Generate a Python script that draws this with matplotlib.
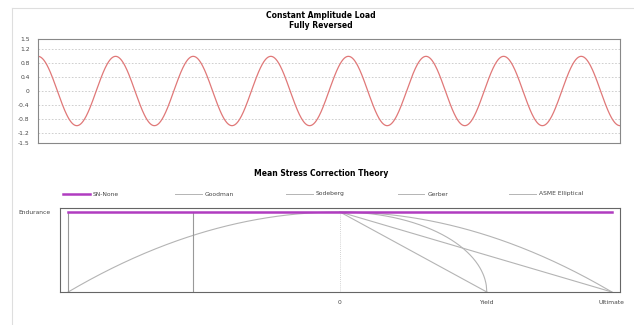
import numpy as np
import matplotlib
matplotlib.use('Agg')
import matplotlib.pyplot as plt
from matplotlib.lines import Line2D

# --- data ---
load_amplitude = 1.0          # fully reversed, +/-1
load_cycles = 7.5             # number of cycles shown
load_yticks = [1.5, 1.2, 0.8, 0.4, 0.0, -0.4, -0.8, -1.2, -1.5]
load_ylabels = ['1.5', '1.2', '0.8', '0.4', '0', '-0.4', '-0.8', '-1.2', '-1.5']
load_grid = [1.2, 0.8, 0.4, 0.0, -0.4, -0.8, -1.2]

theory_names = ['SN-None', 'Goodman', 'Sodeberg', 'Gerber', 'ASME Elliptical']
endurance = 1.0
yield_strength = 0.54
ultimate = 1.0
mean_ticks = [0.0, yield_strength, ultimate]
mean_labels = ['0', 'Yield', 'Ultimate']

plt.rcParams['font.family'] = ['DejaVu Sans']

fig = plt.figure(figsize=(6.34, 3.25), dpi=100)
W, H = 634.0, 325.0

def axes_px(x0, y0, x1, y1):
  return fig.add_axes([x0 / W, 1 - y1 / H, (x1 - x0) / W, (y1 - y0) / H])

# outer panel frame
fig.add_artist(Line2D([12 / W, 12 / W], [0, 1 - 8 / H], color='#dedede', lw=0.8))
fig.add_artist(Line2D([12 / W, 1], [1 - 8 / H, 1 - 8 / H], color='#dedede', lw=0.8))

# ---------- top: load history ----------
ax1 = axes_px(38, 39, 620, 143)
t = np.linspace(0, load_cycles, 1500)
ax1.plot(t, load_amplitude * np.cos(2 * np.pi * t), color='#e07878', lw=0.9)
for g in load_grid:
  ax1.axhline(g, color='#c8c8c8', lw=0.6, ls=(0, (2, 2)), zorder=0)
ax1.set_xlim(0, load_cycles)
ax1.set_ylim(-1.5, 1.5)
ax1.set_yticks(load_yticks)
ax1.set_yticklabels(load_ylabels, fontsize=4.3, color='#444444')
ax1.set_xticks([])
ax1.tick_params(axis='y', length=0, pad=6)
for s in ax1.spines.values():
  s.set_color('#888888')
  s.set_linewidth(0.8)
fig.text(321 / W, 1 - 16 / H, 'Constant Amplitude Load', ha='center', va='center',
         fontsize=5.5, fontweight='bold')
fig.text(321 / W, 1 - 26 / H, 'Fully Reversed', ha='center', va='center',
         fontsize=5.5, fontweight='bold')

# ---------- bottom: mean stress correction ----------
ax2 = axes_px(60, 208, 620, 292)
gray = '#b4b4b4'
purple = '#b03cc0'
sm = np.linspace(0, ultimate, 300)
sm_neg = np.linspace(-ultimate, 0, 300)
se_y = np.linspace(0, yield_strength, 300)

ax2.plot([-ultimate, ultimate], [endurance, endurance], color=purple, lw=1.8, zorder=5)
ax2.plot([0, ultimate], [endurance, 0], color=gray, lw=0.8)
ax2.plot([0, yield_strength], [endurance, 0], color=gray, lw=0.8)
ax2.plot(sm, endurance * (1 - (sm / ultimate) ** 2), color=gray, lw=0.8)
ax2.plot(se_y, endurance * np.sqrt(np.clip(1 - (se_y / yield_strength) ** 2, 0, 1)),
         color=gray, lw=0.8)
# compressive side
ax2.plot(sm_neg, endurance * (1 - (sm_neg / ultimate) ** 2), color=gray, lw=0.8)
ax2.plot([-ultimate, -ultimate], [0, endurance], color='#999999', lw=0.8)
ax2.plot([-yield_strength, -yield_strength], [0, endurance], color='#999999', lw=0.8)
ax2.plot([0, 0], [0, endurance], color='#c4c4c4', lw=0.6, ls=(0, (1, 1.5)))

ax2.set_xlim(-1.03, 1.03)
ax2.set_ylim(0, 1.05)
ax2.set_xticks(mean_ticks)
ax2.set_xticklabels(mean_labels, fontsize=4.3, color='#444444')
ax2.set_yticks([endurance])
ax2.set_yticklabels(['Endurance'], fontsize=4.3, color='#444444')
ax2.tick_params(axis='x', length=0, pad=6)
ax2.tick_params(axis='y', length=0, pad=7)
for s in ax2.spines.values():
  s.set_color('#666666')
  s.set_linewidth(0.8)

# legend row: evenly spaced entries
legend_y = 1 - 194 / H
for i, name in enumerate(theory_names):
  x0 = 63 + i * 111.5
  is_first = i == 0
  fig.add_artist(Line2D([x0 / W, (x0 + 27) / W], [legend_y, legend_y],
                        color=purple if is_first else gray, lw=1.8 if is_first else 0.7))
  fig.text((x0 + 30) / W, legend_y, name, ha='left', va='center', fontsize=4.3,
           color='#444444')

fig.text(321 / W, 1 - 174 / H, 'Mean Stress Correction Theory', ha='center', va='center',
         fontsize=5.5, fontweight='bold')

fig.savefig('out.png', dpi=100)
